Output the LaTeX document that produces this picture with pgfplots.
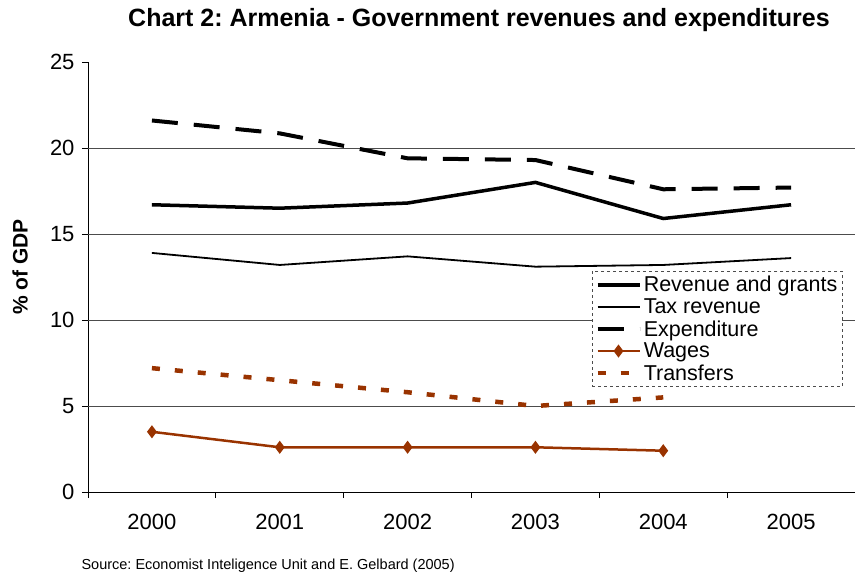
\documentclass[border=0pt]{standalone}
\usepackage{fontspec}
\setmainfont{Liberation Sans}
\usepackage{pgfplots}
\pgfplotsset{compat=1.18}
\definecolor{brn}{RGB}{153,51,0}
\frenchspacing
\begin{document}
\begin{tikzpicture}
\path[use as bounding box] (0,0) rectangle (855bp,576bp);
\node[font=\bfseries\fontsize{25bp}{30bp}\selectfont] at (479bp,556bp) {Chart 2: Armenia - Government revenues and expenditures};
\node[font=\bfseries\fontsize{21bp}{24bp}\selectfont, rotate=90] at (20bp,309bp) {\% of GDP};
\node[font=\fontsize{14.5bp}{17bp}\selectfont, anchor=west] at (78bp,10bp) {Source: Economist Inteligence Unit and E. Gelbard (2005)};
\begin{axis}[
  at={(88bp,84bp)}, anchor=south west,
  width=767bp, height=430bp, scale only axis,
  xmin=-0.5, xmax=5.5, ymin=0, ymax=25,
  axis x line*=bottom, axis y line*=left,
  axis line style={black, line width=0.8bp},
  tick align=outside,
  major tick length=6bp,
  tick style={black, line width=0.8bp},
  xtick={-0.5,0.5,...,5.5}, xticklabels={},
  extra x ticks={0,1,2,3,4,5},
  extra x tick labels={2000,2001,2002,2003,2004,2005},
  extra x tick style={major tick length=0bp, tick label style={yshift=-19bp}},
  ytick={0,5,...,25},
  extra y ticks={5,10,15,20},
  extra y tick labels={},
  extra y tick style={grid=major, major tick length=0bp},
  grid style={black!70, line width=0.8bp},
  yticklabel style={xshift=-4bp},
  /pgf/number format/assume math mode=true,
  ticklabel style={font=\fontsize{22bp}{26bp}\selectfont},
  legend style={at={(0.657,0.514)}, anchor=north west, draw=black!70, dashed, line width=0.7bp,
    fill=white, font=\fontsize{21.5bp}{22bp}\selectfont, inner sep=3bp, row sep=1.4bp,
    /tikz/every even column/.append style={column sep=2bp}},
  legend cell align=left,
  legend image code/.code={\draw[mark repeat=2,mark phase=2,#1] plot coordinates {(0bp,0bp) (21bp,0bp) (42bp,0bp)};},
]
\addplot[black, line width=3.5bp, solid, line join=round] coordinates {(0,16.7) (1,16.5) (2,16.8) (3,18.0) (4,15.9) (5,16.7)};
\addlegendentry{Revenue and grants}
\addplot[black, line width=1.8bp, solid, line join=round] coordinates {(0,13.9) (1,13.2) (2,13.7) (3,13.1) (4,13.2) (5,13.6)};
\addlegendentry{Tax revenue}
\addplot[black, line width=4bp, dash pattern=on 26bp off 16bp] coordinates {(0,21.6) (1,20.85) (2,19.4) (3,19.3) (4,17.6) (5,17.7)};
\addlegendentry{Expenditure}
\addplot[brn, line width=2.5bp, solid, mark=diamond*, mark size=4.5bp, mark options={solid, fill=brn}] coordinates {(0,3.5) (1,2.6) (2,2.6) (3,2.6) (4,2.4)};
\addlegendentry{Wages}
\addplot[brn, line width=4.5bp, dash pattern=on 8bp off 15bp] coordinates {(0,7.2) (1,6.5) (2,5.8) (3,5.0) (4,5.5)};
\addlegendentry{Transfers}
\end{axis}
\end{tikzpicture}
\end{document}
